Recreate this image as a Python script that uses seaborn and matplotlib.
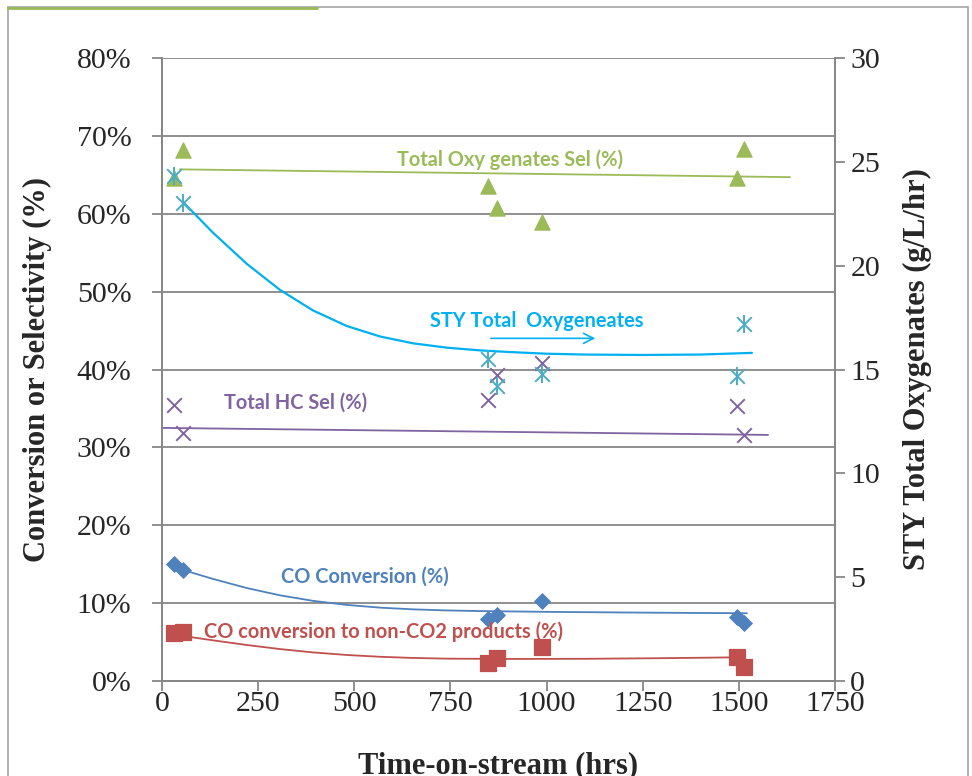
import numpy as np
import pandas as pd
import matplotlib.pyplot as plt
import seaborn as sns
from matplotlib.lines import Line2D

# measured points (time-on-stream, hrs)
hrs = [30, 55, 847, 871, 987, 1494, 1513]
oxy_sel = [64.6, 68.2, 63.5, 60.7, 58.9, 64.6, 68.3]      # % (left axis)
sty_oxy = [24.3, 23.0, 15.5, 14.2, 14.8, 14.7, 17.2]      # g/L/hr (right axis)
hc_sel = [35.4, 31.8, 36.1, 39.3, 40.8, 35.3, 31.6]       # %
co_conv = [15.0, 14.2, 8.0, 8.5, 10.3, 8.2, 7.5]          # %
co_non_co2 = [6.2, 6.3, 2.3, 2.9, 4.4, 3.1, 1.8]          # %

# trendlines
oxy_fit_hrs = [47, 1633]
oxy_fit = [65.7, 64.7]
hc_fit_hrs = [0, 1576]
hc_fit = [32.5, 31.6]
sty_fit_hrs = [55, 133, 221, 307, 393, 481, 567, 653, 741, 827, 905, 1000, 1100, 1250, 1400, 1534]
sty_fit = [23.06, 21.58, 20.08, 18.83, 17.84, 17.09, 16.59, 16.26, 16.05, 15.92, 15.84, 15.76, 15.72, 15.7, 15.72, 15.8]
co_fit_hrs = [55, 133, 221, 307, 393, 481, 567, 653, 741, 827, 1000, 1250, 1521]
co_fit = [14.25, 13.1, 11.93, 11.0, 10.29, 9.77, 9.42, 9.2, 9.06, 8.98, 8.88, 8.78, 8.7]
non_fit_hrs = [73, 133, 221, 307, 393, 481, 567, 653, 741, 900, 1100, 1300, 1480]
non_fit = [5.65, 5.22, 4.62, 4.10, 3.67, 3.34, 3.11, 2.96, 2.87, 2.83, 2.85, 2.93, 3.03]

x_ticks = [0, 250, 500, 750, 1000, 1250, 1500, 1750]
left_ticks = [0, 10, 20, 30, 40, 50, 60, 70, 80]
right_ticks = [0, 5, 10, 15, 20, 25, 30]

df = pd.DataFrame({"hrs": hrs, "oxy": oxy_sel, "sty": sty_oxy, "hc": hc_sel,
                   "co": co_conv, "non": co_non_co2})

GREEN = "#9BBB59"
CYAN_M = "#4BACC6"
CYAN_L = "#00B0F0"
PURPLE = "#8064A2"
BLUE = "#4F81BD"
RED = "#C0504D"
GRID = "#878787"

sns.set_style("white")
plt.rcParams["font.family"] = ["Liberation Serif", "DejaVu Serif"]

fig = plt.figure(figsize=(9.72, 7.76), dpi=100)
ax = fig.add_axes([162 / 972, 1 - 681 / 776, 673 / 972, 623 / 776])
ax2 = ax.twinx()

# trendlines
sns.lineplot(x=oxy_fit_hrs, y=oxy_fit, ax=ax, color=GREEN, lw=1.3)
sns.lineplot(x=hc_fit_hrs, y=hc_fit, ax=ax, color=PURPLE, lw=1.3)
sns.lineplot(x=co_fit_hrs, y=co_fit, ax=ax, color=BLUE, lw=1.3)
sns.lineplot(x=non_fit_hrs, y=non_fit, ax=ax, color=RED, lw=1.3)
sns.lineplot(x=sty_fit_hrs, y=sty_fit, ax=ax2, color=CYAN_L, lw=1.6)

# markers
sns.scatterplot(data=df, x="hrs", y="oxy", ax=ax, marker="^", s=120, color=GREEN, edgecolor=GREEN, zorder=3)
sns.scatterplot(data=df, x="hrs", y="hc", ax=ax, marker="x", s=110, color=PURPLE, linewidth=1.4, zorder=3)
sns.scatterplot(data=df, x="hrs", y="co", ax=ax, marker="D", s=65, color=BLUE, edgecolor=BLUE, zorder=3)
sns.scatterplot(data=df, x="hrs", y="non", ax=ax, marker="s", s=120, color=RED, edgecolor=RED, zorder=3)
sns.scatterplot(data=df, x="hrs", y="sty", ax=ax2, marker="x", s=110, color=CYAN_M, linewidth=1.4, zorder=3)
sns.scatterplot(data=df, x="hrs", y="sty", ax=ax2, marker="|", s=150, color=CYAN_M, linewidth=1.4, zorder=3)

ax.set_xlim(0, 1750)
ax.set_ylim(0, 80)
ax2.set_ylim(0, 30)
ax.set_xticks(x_ticks)
ax.set_yticks(left_ticks)
ax.set_yticklabels([f"{t}%" for t in left_ticks])
ax2.set_yticks(right_ticks)

ax.grid(axis="y", color=GRID, lw=1.3)
ax.set_axisbelow(True)
for a in (ax, ax2):
    for side in a.spines:
        a.spines[side].set_color(GRID)
        a.spines[side].set_linewidth(1.3)
ax.spines["top"].set_visible(False)
ax2.spines["top"].set_visible(False)

ax.tick_params(axis="y", direction="out", length=7, width=1.3, color=GRID, pad=15, labelsize=21.5, left=True)
ax.tick_params(axis="x", direction="out", length=7, width=1.3, color=GRID, pad=0, labelsize=21.5, bottom=True)
ax2.tick_params(axis="y", direction="out", length=7, width=1.3, color=GRID, pad=4, labelsize=21.5, right=True)

ax.set_xlabel("Time-on-stream (hrs)", fontsize=22, fontweight="bold")
ax.set_ylabel("Conversion or Selectivity (%)", fontsize=22, fontweight="bold")
ax2.set_ylabel("STY Total Oxygenates (g/L/hr)", fontsize=22, fontweight="bold")
ax.yaxis.set_label_coords(-0.163, 0.5)
ax2.yaxis.set_label_coords(1.101, 0.5)
ax.xaxis.set_label_coords(0.5, -0.112)

# series labels
lab = dict(family=["Lato", "DejaVu Sans"], fontsize=14.4, fontweight="bold", ha="center", va="center")
ax.text(905, 66.9, "Total Oxy genates Sel (%)", color=GREEN, **lab)
ax.text(975, 46.2, "STY Total  Oxygeneates", color=CYAN_L, **lab)
ax.text(348, 35.8, "Total HC Sel (%)", color=PURPLE, **lab)
ax.text(528, 13.35, "CO Conversion (%)", color=BLUE, **lab)
ax.text(577, 6.3, "CO conversion to non-CO2 products (%)", color=RED, **lab)
ax.annotate("", xy=(1134, 44.0), xytext=(848, 44.0),
            arrowprops=dict(arrowstyle="->", color=CYAN_L, lw=1.2, mutation_scale=18))

# outer frame of the slide
fig.add_artist(Line2D([8 / 972, 968 / 972], [1 - 7 / 776] * 2, color="#A6A6A6", lw=1.2))
fig.add_artist(Line2D([8 / 972] * 2, [0, 1 - 7 / 776], color="#A6A6A6", lw=1.2))
fig.add_artist(Line2D([968 / 972] * 2, [0, 1 - 7 / 776], color="#A6A6A6", lw=1.2))
fig.add_artist(Line2D([8 / 972, 317 / 972], [1 - 8 / 776] * 2, color=GREEN, lw=2))

fig.savefig("out.png", dpi=100)
